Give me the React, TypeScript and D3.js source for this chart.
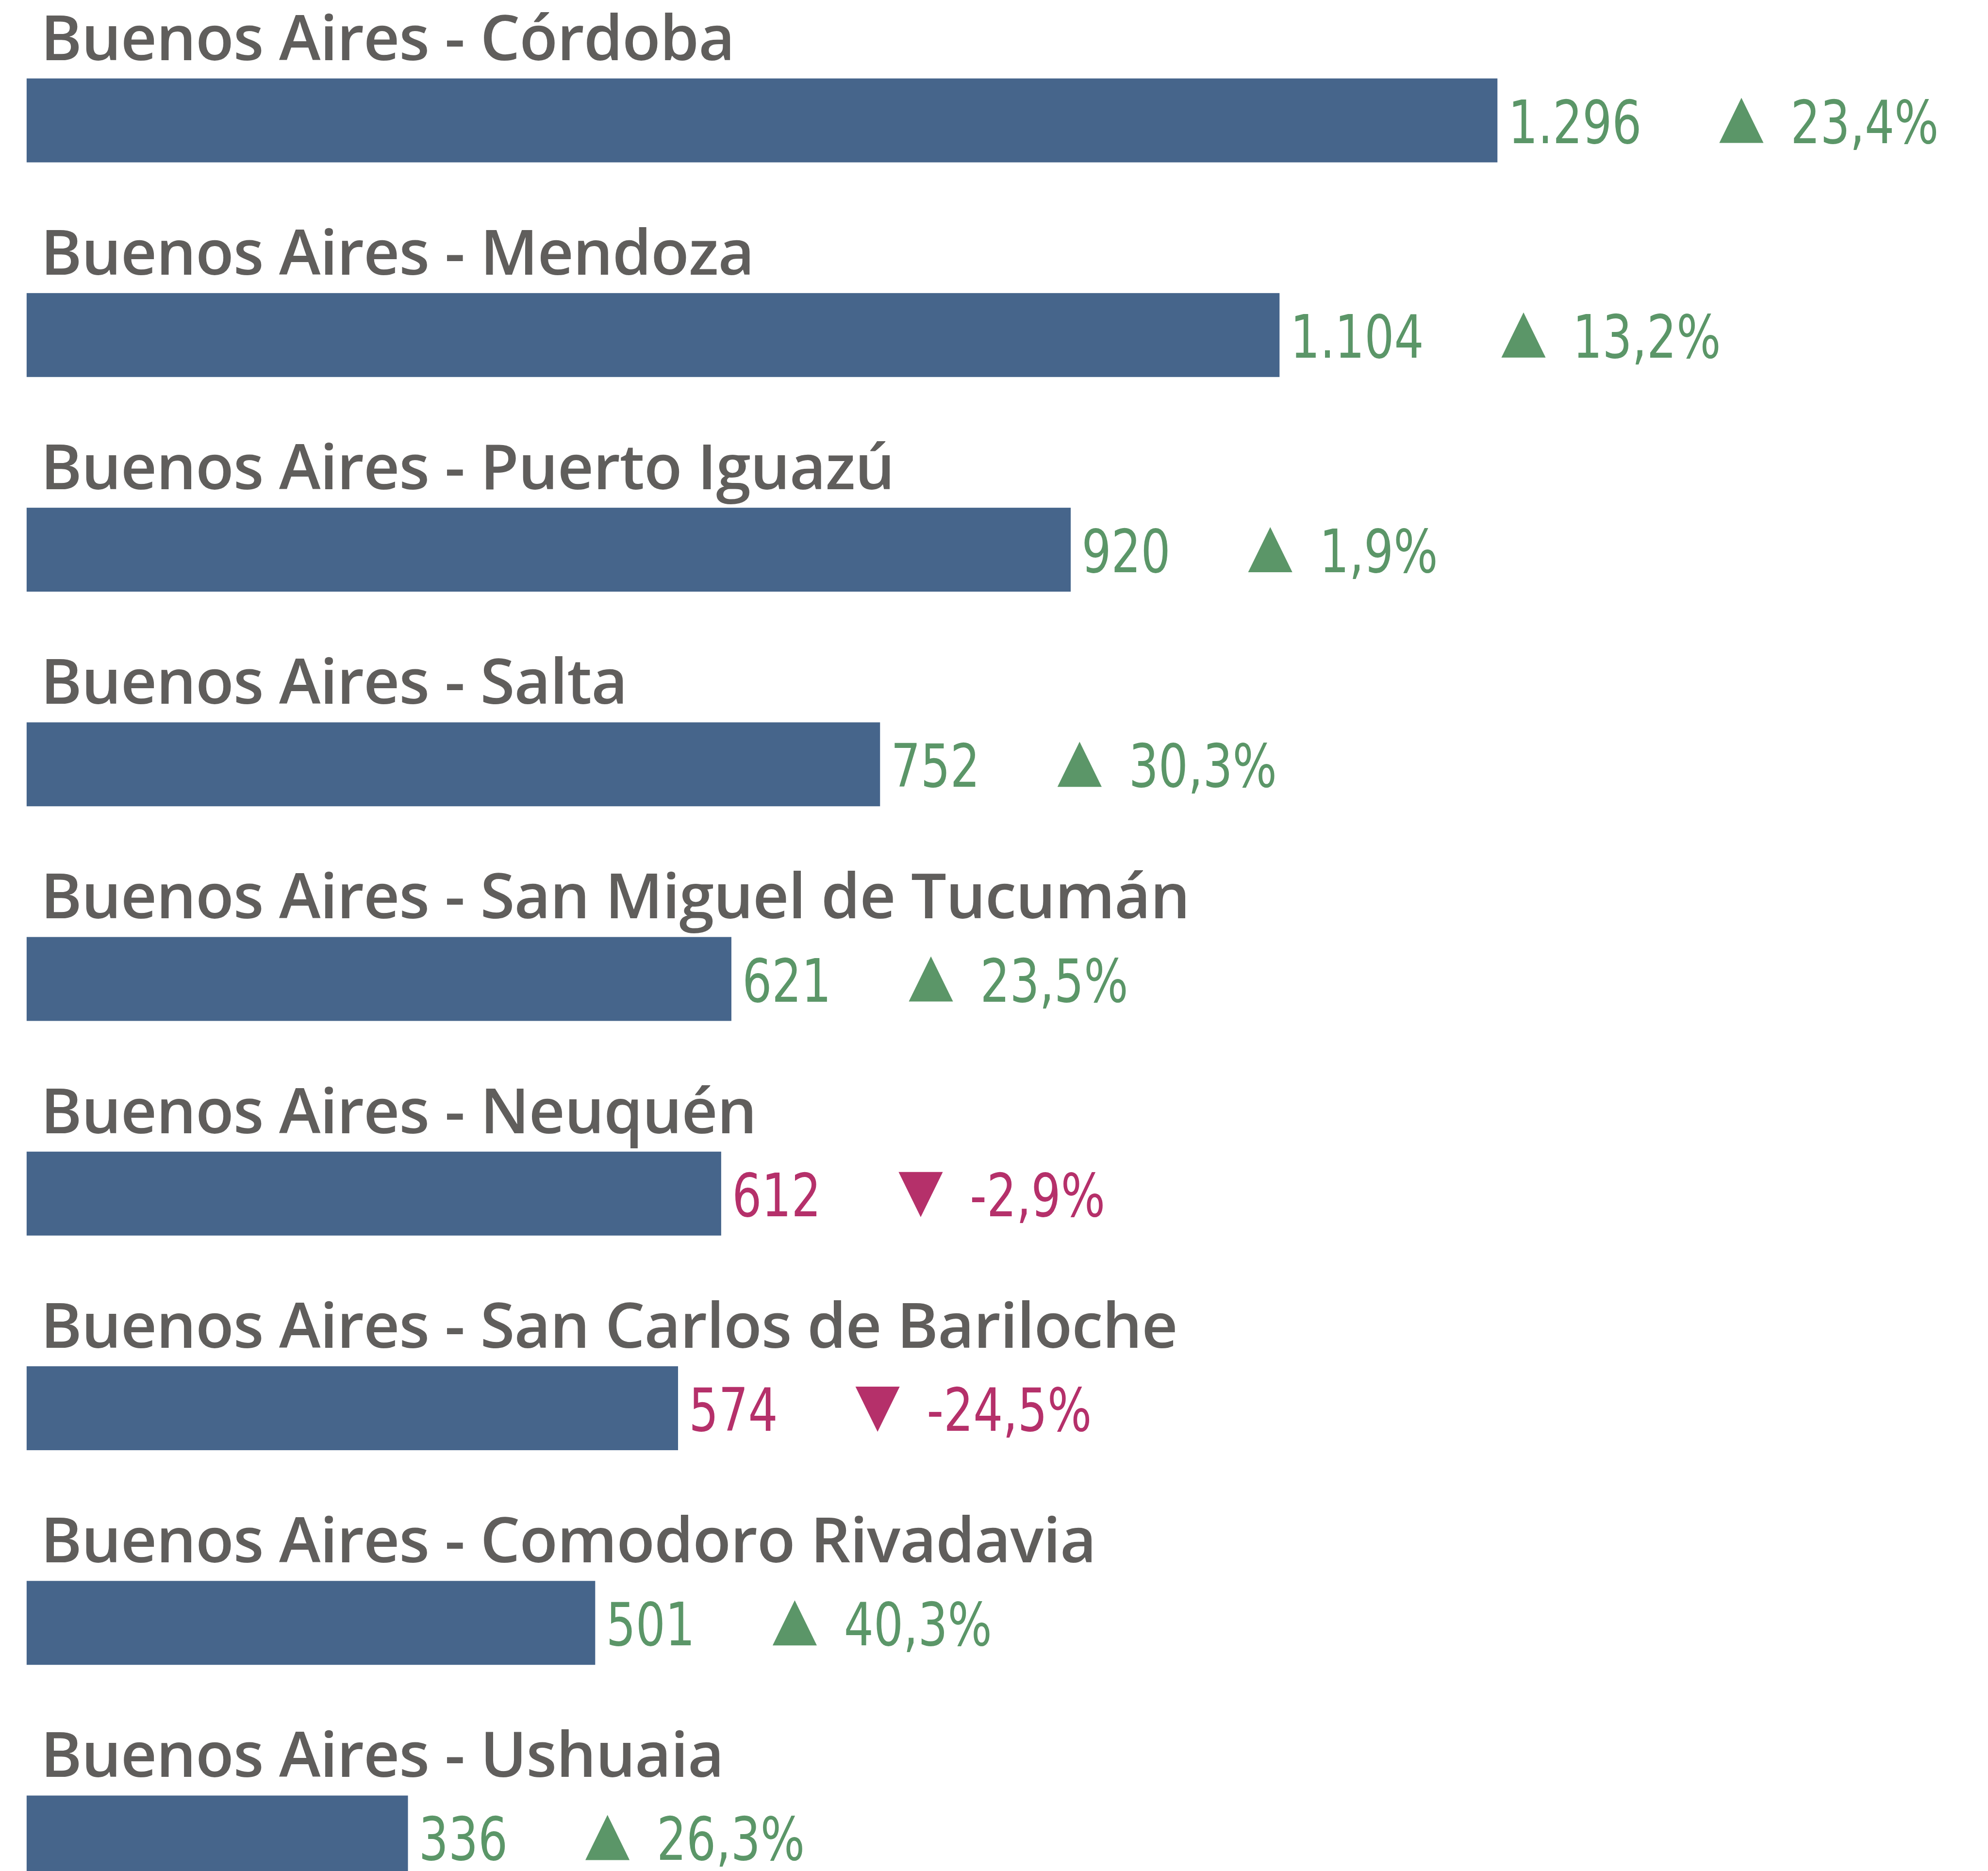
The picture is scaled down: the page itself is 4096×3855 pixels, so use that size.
import React, { useEffect, useRef } from "react";
import { select, scaleLinear, scaleBand, formatLocale } from "d3";

// reference is 4405 wide, window is 4096
const s = 4096 / 4405;
const width = 4096;
const height = 3855;

const routes = [
  "Buenos Aires - Córdoba",
  "Buenos Aires - Mendoza",
  "Buenos Aires - Puerto Iguazú",
  "Buenos Aires - Salta",
  "Buenos Aires - San Miguel de Tucumán",
  "Buenos Aires - Neuquén",
  "Buenos Aires - San Carlos de Bariloche",
  "Buenos Aires - Comodoro Rivadavia",
  "Buenos Aires - Ushuaia",
];
const passengers = [1296, 1104, 920, 752, 621, 612, 574, 501, 336];
const changes = [23.4, 13.2, 1.9, 30.3, 23.5, -2.9, -24.5, 40.3, 26.3];

const barColor = "#46658b";
const upColor = "#5b9668";
const downColor = "#b5306a";
const titleColor = "#605e5c";

const titleFont = "'Open Sans', 'Noto Sans', sans-serif";
const valueFont = "'Liberation Sans Narrow', 'DejaVu Sans Condensed', sans-serif";
const squeeze = 0.87; // the labels use a narrow DIN-like face

const esAR = formatLocale({
  decimal: ",",
  thousands: ".",
  grouping: [3],
  currency: ["$", ""],
  minus: "-",
});
const fmtValue = esAR.format(",d");
const fmtPct = esAR.format(".1f");

export default function App() {
  const ref = useRef<SVGSVGElement>(null);

  useEffect(() => {
    const svg = select(ref.current);
    svg.selectAll("*").remove();

    const x0 = 59 * s; // left edge of the bars
    const x = scaleLinear().domain([0, 1296]).range([0, 3259 * s]);
    const y = scaleBand()
      .domain(routes)
      .range([29 * s, (29 + 475.6 * routes.length) * s])
      .paddingInner(0.609)
      .paddingOuter(0.3045);

    const rows = routes.map((route, i) => ({
      route,
      value: passengers[i],
      change: changes[i],
    }));

    rows.forEach((d) => {
      const top = y(d.route) as number;
      const g = svg.append("g");
      const col = d.change >= 0 ? upColor : downColor;

      g.append("text")
        .attr("x", 90 * s)
        .attr("y", top - 41 * s)
        .attr("fill", titleColor)
        .style("font-family", titleFont)
        .style("font-weight", 600)
        .style("font-size", `${139 * s}px`)
        .style("letter-spacing", `${-1.2 * s}px`)
        .text(d.route);

      g.append("rect")
        .attr("x", x0)
        .attr("y", top)
        .attr("width", x(d.value))
        .attr("height", y.bandwidth())
        .attr("fill", barColor);

      const baseline = top + 143 * s;
      const vx = x0 + x(d.value) + 24 * s;
      const vt = g
        .append("text")
        .attr("transform", `translate(${vx},${baseline}) scale(${squeeze},1)`)
        .attr("fill", col)
        .style("font-family", valueFont)
        .style("font-size", `${132 * s}px`)
        .text(fmtValue(d.value));
      const w = (vt.node() as SVGTextElement).getComputedTextLength() * squeeze;

      const tx = vx + w + 172 * s;
      const tw = 98 * s;
      const th = 100 * s;
      const tri =
        d.change >= 0
          ? `M${tx},${baseline} L${tx + tw / 2},${baseline - th} L${tx + tw},${baseline} Z`
          : `M${tx},${baseline - th + 2 * s} L${tx + tw},${baseline - th + 2 * s} L${tx + tw / 2},${baseline + 2 * s} Z`;
      g.append("path").attr("d", tri).attr("fill", col);

      g.append("text")
        .attr("transform", `translate(${tx + tw + 60 * s},${baseline}) scale(${squeeze},1)`)
        .attr("fill", col)
        .style("font-family", valueFont)
        .style("font-size", `${132 * s}px`)
        .text(fmtPct(d.change) + "%");
    });
  }, []);

  return (
    <svg
      ref={ref}
      width={width}
      height={height}
      style={{ position: "absolute", left: 0, top: 0, background: "#fff" }}
    />
  );
}
